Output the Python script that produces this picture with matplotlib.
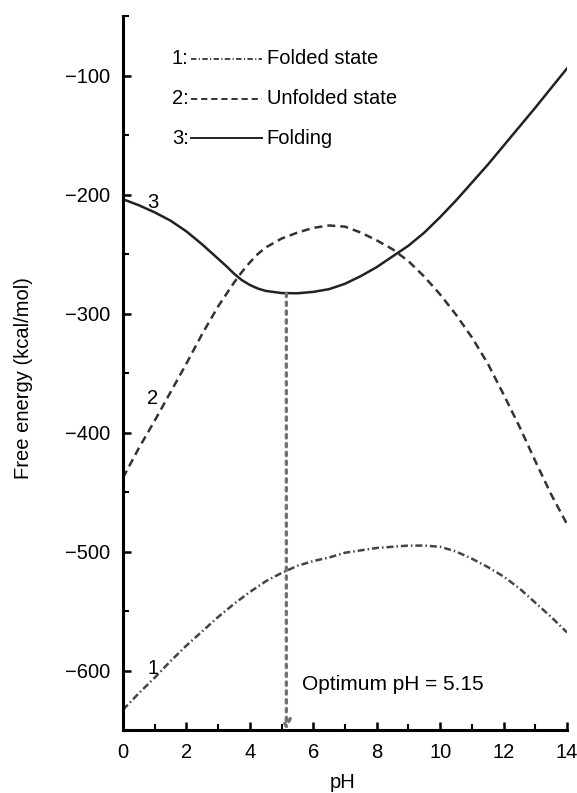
import matplotlib
matplotlib.use("Agg")
import matplotlib.pyplot as plt
from matplotlib.lines import Line2D

plt.rcParams['font.family'] = ['Liberation Sans', 'DejaVu Sans']
plt.rcParams['font.size'] = 14.5

# free energies (kcal/mol), each curve on its own pH points
ph_folded = [0, 0.5, 1, 1.5, 2, 2.5, 3, 3.5, 4, 4.5, 5, 5.5, 6, 6.5, 7,
             7.5, 8, 8.5, 9, 9.5, 10, 10.5, 11, 11.5, 12, 12.5, 13, 13.5, 14]
folded = [-633, -619, -606, -592, -579, -567, -555, -544, -534, -525,
          -518, -512, -508, -505, -501, -499, -497, -496, -495, -495,
          -496, -500, -506, -513, -521, -531, -543, -555, -568]

ph_unfolded = [0, 0.5, 1, 1.5, 2, 2.5, 3, 3.5, 3.75, 4, 4.25, 4.5, 5, 5.5,
               6, 6.5, 7, 7.5, 8, 8.5, 9, 9.5, 10, 10.5, 11, 11.5, 12,
               12.5, 13, 13.5, 14]
unfolded = [-438, -413, -390, -366, -342, -317, -294, -274, -265, -257,
            -250, -244.5, -237, -232, -228, -226, -227, -232, -238.5, -246,
            -256, -269, -284, -301, -320, -342, -368, -395, -424, -452, -477]

ph_folding = [0, 0.5, 1, 1.5, 2, 2.5, 3, 3.25, 3.5, 3.75, 4, 4.25, 4.5, 5,
              5.5, 6, 6.5, 7, 7.5, 8, 8.5, 9, 9.5, 10, 10.5, 11, 11.5, 12,
              12.5, 13, 13.5, 14]
folding = [-204, -209, -215, -222, -231, -242, -254, -260, -266.5, -272,
           -276, -279, -281, -282.8, -283, -281.8, -279.5, -275, -268.5,
           -261, -252, -243, -232, -219, -205, -190, -175, -159, -143,
           -127, -110.5, -94]

labels = ["Folded state", "Unfolded state", "Folding"]
opt_ph = 5.15
opt_energy = -283

fig = plt.figure(figsize=(5.77, 7.93), dpi=100)
ax = fig.add_axes([0.2132, 0.0794, 0.7695, 0.9004])

lw = 1.8
styles = [
    dict(color="#444444", dashes=(2.8, 1.2, 0.6, 1.2)),   # dash-dot
    dict(color="#333333", dashes=(3.2, 2.0)),             # dashed
    dict(color="#222222", linestyle="-"),                 # solid
]

ax.plot(ph_folded, folded, lw=lw, **styles[0])
ax.plot(ph_unfolded, unfolded, lw=lw, **styles[1])
ax.plot(ph_folding, folding, lw=lw, **styles[2])

# curve numbers
ax.text(0.95, -598, "1", ha="center", va="center")
ax.text(0.93, -371, "2", ha="center", va="center")
ax.text(0.95, -207, "3", ha="center", va="center")

# arrow down to the optimum pH
ax.annotate("", xy=(opt_ph, -650), xytext=(opt_ph, opt_energy),
            arrowprops=dict(arrowstyle="->", linestyle=":", color="0.45",
                            lw=2.4, shrinkA=0, shrinkB=0,
                            mutation_scale=14))
ax.text(5.64, -612, f"Optimum pH = {opt_ph}", ha="left", va="center",
        fontsize=15)

# legend drawn by hand: "n:" + line sample + label
leg_y = [0.940, 0.884, 0.829]
for i, (lab, st) in enumerate(zip(labels, styles)):
    y = leg_y[i]
    ax.text(0.148, y, f"{i + 1}:", transform=ax.transAxes,
            ha="right", va="center")
    ax.add_line(Line2D([0.152, 0.313], [y, y], transform=ax.transAxes,
                       lw=1.4, **st))
    ax.text(0.324, y, lab, transform=ax.transAxes, ha="left", va="center")

ax.set_xlim(0, 14)
ax.set_ylim(-650, -50)
ax.set_xticks(range(0, 15, 2))
ax.set_xticks(range(0, 15, 1), minor=True)
ax.set_yticks([-600, -500, -400, -300, -200, -100])
ax.set_yticks(range(-650, -49, 50), minor=True)

ax.spines["top"].set_visible(False)
ax.spines["right"].set_visible(False)
for s in ["left", "bottom"]:
    ax.spines[s].set_linewidth(2.2)

ax.tick_params(which="major", direction="in", length=6, width=1.8, pad=9)
ax.tick_params(which="minor", direction="in", length=4, width=1.5)

ax.set_xlabel("pH")
ax.set_ylabel("Free energy (kcal/mol)")
ax.xaxis.set_label_coords(0.495, -0.060)
ax.yaxis.set_label_coords(-0.2027, 0.493)

fig.savefig("out.png", dpi=100)
